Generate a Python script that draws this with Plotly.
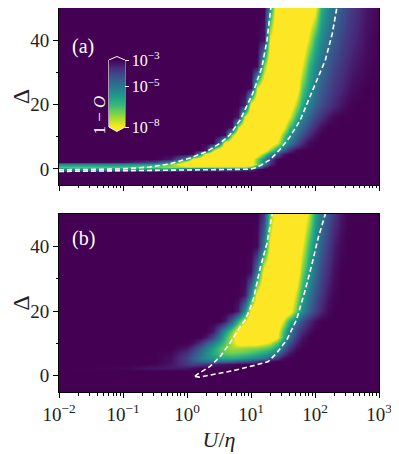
import plotly.graph_objects as go
from plotly.subplots import make_subplots

FONT = "Liberation Serif"

# heatmap columns (U/eta), shared by both panels
u_eta = [0.01, 0.1, 0.316, 0.562, 1.0, 1.26, 1.58, 2.0, 2.51, 3.16, 3.98, 5.01, 6.31, 7.94,
         10.0, 12.6, 15.8, 20.0, 25.1, 31.6, 39.8, 50.1, 63.1, 79.4,
         100.0, 126.0, 158.0, 200.0, 251.0, 316.0, 398.0, 631.0, 1000.0]

# panel (a): log10(1 - O), rows are Delta
delta_a = [-5, -1, 0, 0.7, 1.4, 2.2, 3.2, 4.5, 6, 8, 10.5, 13, 16, 20, 25, 32, 40, 50]
z_a = [
    [-3] * 33,
    [-3] * 33,
    [-5.5] * 4 + [-4.0] * 10 + [-3.8, -3.2] + [-3] * 17,
    [-6.6, -6.6, -6.9, -7.2] + [-7.4] * 10 + [-6.8, -5.3, -3.6] + [-3] * 16,
    [-5.4, -5.4, -5.8, -7.0] + [-9] * 10 + [-8.8, -7.0, -5.2, -3.6] + [-3] * 15,
    [-3.0, -3.2, -4.0, -5.2, -8.3] + [-9] * 9 + [-8.4, -6.8, -5.3, -3.8] + [-3] * 15,
    [-3, -3, -3, -3.3, -5.5, -8.2] + [-9] * 8 + [-8.6, -7.0, -5.4, -4.0, -3.1] + [-3] * 14,
    [-3] * 5 + [-3.2, -5.5, -8.5] + [-9] * 7 + [-8.6, -7.0, -5.5, -4.3, -3.3] + [-3] * 13,
    [-3] * 7 + [-3.4, -7.3] + [-9] * 7 + [-8.7, -7.2, -5.7, -4.6, -3.7, -3.1] + [-3] * 11,
    [-3] * 9 + [-4.5, -8.5] + [-9] * 7 + [-7.9, -6.3, -5.1, -4.3, -3.6, -3.1] + [-3] * 9,
    [-3] * 10 + [-3.2, -7.2] + [-9] * 6 + [-8.8, -7.0, -5.6, -4.8, -4.2, -3.6, -3.2] + [-3] * 8,
    [-3] * 11 + [-3.2, -7.5] + [-9] * 6 + [-8.4, -6.6, -5.4, -4.7, -4.1, -3.6, -3.2] + [-3] * 7,
    [-3] * 12 + [-3.3, -8.0] + [-9] * 6 + [-8.0, -6.3, -5.3, -4.6, -4.1, -3.7, -3.3, -3.05] + [-3] * 5,
    [-3] * 13 + [-3.5, -8.5] + [-9] * 6
    + [-7.4, -6.0, -5.2, -4.6, -4.2, -3.85, -3.55, -3.3, -3.1] + [-3] * 3,
    [-3] * 14 + [-3.1, -7.8] + [-9] * 5
    + [-8.8, -6.8, -5.7, -5.0, -4.5, -4.1, -3.8, -3.55, -3.35, -3.15] + [-3] * 2,
    [-3] * 16 + [-7.0] + [-9] * 5
    + [-7.9, -6.3, -5.4, -4.8, -4.4, -4.05, -3.8, -3.55, -3.35, -3.1, -3.0],
    [-3] * 16 + [-3.3, -8.0] + [-9] * 5
    + [-7.6, -6.3, -5.4, -4.8, -4.4, -4.05, -3.8, -3.6, -3.2, -3.0],
    [-3] * 17 + [-5.5] + [-9] * 6 + [-8.2, -6.2, -5.3, -4.8, -4.4, -4.05, -3.8, -3.3, -3.05],
]

# panel (b)
delta_b = [-5, 0, 1.5, 2.5, 3.5, 4.5, 5.5, 7, 8.5, 10, 12, 14, 17, 20, 25, 32, 40, 50]
z_b = [
    [-3] * 33,
    [-3] * 33,
    [-3] * 33,
    [-3, -3.05, -3.3, -3.35, -3.3, -3.15] + [-3] * 27,
    [-3, -3, -3.05, -3.3, -3.8, -4.0, -3.9, -3.7, -3.5, -3.35, -3.25, -3.15, -3.05] + [-3] * 20,
    [-3, -3, -3, -3.2, -3.9, -4.3, -4.6, -4.8, -4.9, -4.9, -4.8, -4.7, -4.5, -4.3,
     -4.1, -3.8, -3.5, -3.2] + [-3] * 15,
    [-3, -3, -3, -3.2, -4.0, -4.5, -5.0, -5.4, -5.7, -5.9, -6.0, -6.0, -5.9, -5.7,
     -5.5, -5.3, -5.0, -4.5, -3.8, -3.2] + [-3] * 13,
    [-3, -3, -3, -3.1, -3.7, -4.2, -4.8, -5.4, -6.0, -6.5, -6.8, -6.9, -6.8, -6.7,
     -6.5, -6.3, -6.0, -5.6, -4.9, -4.0, -3.3] + [-3] * 12,
    [-3, -3, -3, -3, -3.3, -3.8, -4.4, -5.1, -5.8, -6.5, -7.0, -7.3, -7.3, -7.2,
     -7.1, -7.0, -6.8, -6.5, -5.8, -4.7, -3.8, -3.2] + [-3] * 11,
    [-3, -3, -3, -3, -3.0, -3.2, -3.7, -4.4, -5.1, -5.9, -6.7, -7.5, -8.3, -8.4,
     -8.4, -8.3, -8.0, -7.6, -6.6, -5.3, -4.3, -3.5, -3.1] + [-3] * 10,
    [-3] * 7 + [-3.3, -4.0, -5.0, -6.3, -7.5, -8.6] + [-9] * 5
    + [-8.2, -6.3, -4.9, -3.9, -3.3] + [-3] * 10,
    [-3] * 8 + [-3.3, -4.3, -5.6, -6.9, -8.3] + [-9] * 5
    + [-8.3, -6.6, -5.2, -4.2, -3.6, -3.2] + [-3] * 9,
    [-3] * 10 + [-3.3, -4.6, -6.2, -7.8] + [-9] * 5
    + [-7.8, -6.2, -5.0, -4.2, -3.6, -3.2] + [-3] * 8,
    [-3] * 12 + [-3.4, -5.6, -8.3] + [-9] * 5
    + [-8.6, -6.8, -5.4, -4.6, -4.0, -3.5, -3.1] + [-3] * 6,
    [-3] * 13 + [-3.3, -5.5, -8.3] + [-9] * 5
    + [-7.6, -6.0, -5.0, -4.3, -3.8, -3.3, -3.05] + [-3] * 5,
    [-3] * 14 + [-3.2, -5.2, -8.5] + [-9] * 5
    + [-7.0, -5.7, -4.8, -4.1, -3.6, -3.2] + [-3] * 5,
    [-3] * 15 + [-3.1, -5.2, -8.2] + [-9] * 4
    + [-8.0, -6.4, -5.3, -4.5, -3.9, -3.4, -3.1] + [-3] * 4,
    [-3] * 16 + [-3.8, -6.8] + [-9] * 5
    + [-7.6, -6.0, -5.0, -4.3, -3.8, -3.3, -3.05] + [-3] * 3,
]

# white dashed boundaries
dash_a1_u = [0.01, 0.1, 0.263, 0.537, 1.12, 2.04, 3.31, 4.68, 6.76, 10.7, 14.8, 17.8, 20.4]
dash_a1_d = [-0.3, 0.0, 0.6, 1.55, 3.4, 5.4, 8.0, 10.6, 15.2, 23.6, 31.6, 40, 50]
dash_a2_u = [0.01, 0.1, 1.0, 4.68, 9.55, 11.5, 13.8, 20.0, 28.2, 40.7, 58.9, 83.2, 120, 145, 186, 219]
dash_a2_d = [-0.8, -0.6, -0.4, -0.2, -0.1, 0.3, 1.0, 2.9, 6.0, 10.0, 15.2, 22.4, 29.7, 33.8, 42, 50]
dash_b1_u = [1.33, 1.41, 2.29, 3.31, 4.68, 6.76, 8.13, 9.55, 11.0, 13.8, 17.8, 21.4]
dash_b1_d = [-0.2, 0.3, 2.9, 6.0, 10.1, 15.2, 17.3, 20.5, 24, 33, 41, 50]
dash_b2_u = [1.33, 1.58, 2.88, 6.03, 12.3, 18.6, 25.1, 36.3, 51.3, 69.2, 89.1, 112, 145]
dash_b2_d = [-0.2, -0.4, 0.6, 1.85, 3.4, 4.4, 7.0, 11.1, 17.3, 26, 34.3, 42.6, 50]

xtick_vals = [0.01, 0.1, 1, 10, 100, 1000]
xtick_text = ["10<sup>−2</sup>", "10<sup>−1</sup>", "10<sup>0</sup>",
              "10<sup>1</sup>", "10<sup>2</sup>", "10<sup>3</sup>"]
cbar_vals = [-3, -5, -8]
cbar_text = ["10<sup>−3</sup>", "10<sup>−5</sup>", "10<sup>−8</sup>"]

fig = make_subplots(rows=2, cols=1)

for row, (dy, z) in enumerate([(delta_a, z_a), (delta_b, z_b)], start=1):
    fig.add_trace(go.Heatmap(
        x=u_eta, y=dy, z=z, zmin=-8, zmax=-3, zsmooth="best",
        colorscale="Viridis", reversescale=True, showscale=(row == 1),
        hoverinfo="skip",
        colorbar=dict(
            x=0.156, xanchor="left", y=0.7773, yanchor="middle",
            thickness=16, lenmode="pixels", len=67, xpad=0, ypad=0,
            outlinewidth=0, tickmode="array", tickvals=cbar_vals, ticktext=cbar_text,
            ticks="outside", ticklen=4, tickcolor="white", tickwidth=1,
            tickfont=dict(color="white", size=16, family=FONT),
        ),
    ), row=row, col=1)

for u, d, row in [(dash_a1_u, dash_a1_d, 1), (dash_a2_u, dash_a2_d, 1),
                  (dash_b1_u, dash_b1_d, 2), (dash_b2_u, dash_b2_d, 2)]:
    fig.add_trace(go.Scatter(
        x=u, y=d, mode="lines", showlegend=False, hoverinfo="skip",
        line=dict(color="white", width=1.6, dash="5px,3px"),
    ), row=row, col=1)

minor_u = [k * 10.0 ** n for n in range(-2, 3) for k in range(2, 10)]
axis_common = dict(showline=True, mirror=True, linecolor="black", linewidth=1,
                   showgrid=False, zeroline=False, ticks="outside", ticklen=5,
                   tickwidth=1, tickcolor="black", automargin=False,
                   tickfont=dict(size=19, family=FONT, color="#222"))
fig.update_xaxes(type="log", range=[-2, 3], tickmode="array", tickvals=xtick_vals,
                 ticktext=xtick_text,
                 minor=dict(tickmode="array", tickvals=minor_u, ticks="outside",
                            ticklen=2.5, tickwidth=0.8, tickcolor="black", showgrid=False),
                 **axis_common)
fig.update_xaxes(showticklabels=False, row=1, col=1)
fig.update_xaxes(title=dict(text="<i>U</i>/<i>η</i>", font=dict(size=22, family=FONT),
                            standoff=7), row=2, col=1)
fig.update_yaxes(range=[-5, 50], tickmode="array", tickvals=[0, 20, 40],
                 minor=dict(tickmode="array", tickvals=[10, 30], ticks="outside",
                            ticklen=2.5, tickwidth=0.8, tickcolor="black", showgrid=False),
                 title=dict(text="Δ", font=dict(size=24, family=FONT), standoff=18),
                 **axis_common)
fig.update_layout(yaxis=dict(domain=[0.5391, 1.0]), yaxis2=dict(domain=[0.0, 0.4635]))

# colorbar extension tips and outline (matplotlib-style extend='both')
fig.add_shape(type="path", xref="paper", yref="paper", line_width=0, fillcolor="#440154",
              path="M 0.156,0.8646 L 0.181,0.8737 L 0.206,0.8646 Z")
fig.add_shape(type="path", xref="paper", yref="paper", line_width=0, fillcolor="#fde725",
              path="M 0.156,0.6901 L 0.181,0.6784 L 0.206,0.6901 Z")
fig.add_shape(type="path", xref="paper", yref="paper", line=dict(color="white", width=1),
              path="M 0.156,0.8646 L 0.181,0.8737 L 0.206,0.8646 L 0.206,0.6901 "
                   "L 0.181,0.6784 L 0.156,0.6901 Z")

fig.add_annotation(text="1 − <i>O</i>", textangle=-90, x=0.0906, y=0.7773,
                   xref="paper", yref="paper", showarrow=False,
                   font=dict(color="white", size=17, family=FONT))
fig.add_annotation(text="(a)", x=0.034, y=0.9336, xref="paper", yref="paper",
                   xanchor="left", showarrow=False,
                   font=dict(color="white", size=20, family=FONT))
fig.add_annotation(text="(b)", x=0.034, y=0.401, xref="paper", yref="paper",
                   xanchor="left", showarrow=False,
                   font=dict(color="white", size=20, family=FONT))

# the page body adds an 8 px offset, so the figure is 8 px smaller than the window
fig.update_layout(
    width=391, height=446,
    margin=dict(l=51, r=20, t=0, b=62),
    paper_bgcolor="white", plot_bgcolor="#440154",
    font=dict(family=FONT, color="#222"),
    showlegend=False,
)

fig.write_html("out.html")
